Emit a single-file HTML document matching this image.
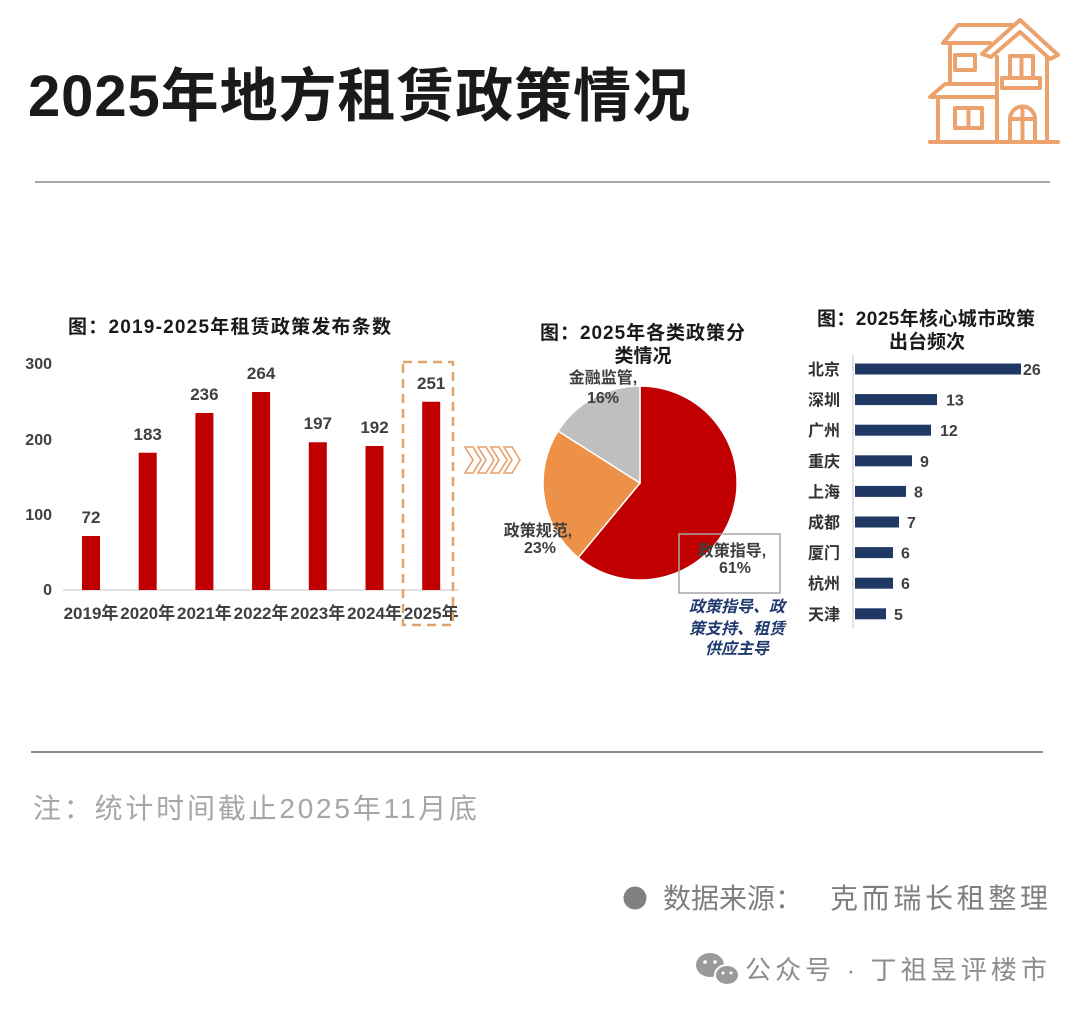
<!DOCTYPE html>
<html>
<head>
<meta charset="utf-8">
<style>
html,body{margin:0;padding:0;background:#fff;}
svg{display:block;}
text{font-family:"Liberation Sans","Noto Sans CJK SC",sans-serif;}
</style>
</head>
<body>
<svg width="1080" height="1013" viewBox="0 0 1080 1013" xmlns="http://www.w3.org/2000/svg">
<rect width="1080" height="1013" fill="#fff"/>

<!-- Title -->
<text x="28" y="116" font-size="58" font-weight="700" fill="#1a1a1a" textLength="662" lengthAdjust="spacing">2025年地方租赁政策情况</text>

<!-- House icon -->
<g stroke="#EBA26C" stroke-width="4" fill="none" stroke-linejoin="round" stroke-linecap="round">
  <path d="M930,142 H1058"/>
  <path d="M982,54 L1020,20 L1058,55 L1050,59 L1020,32 L991,57 Z"/>
  <path d="M997,57 V142 M1047,58 V142"/>
  <path d="M990,43 H943 L958,25 H1012"/>
  <path d="M950,43 V84"/>
  <rect x="955" y="55" width="20" height="15"/>
  <path d="M997,84 H945 L930,97 H997"/>
  <path d="M938,97 V142"/>
  <rect x="955" y="108" width="27" height="20"/>
  <path d="M968.5,108 V128"/>
  <rect x="1010" y="56" width="23" height="22"/>
  <path d="M1021.5,56 V78"/>
  <rect x="1002" y="78" width="38" height="10"/>
  <path d="M1010,142 V119 A12.5,12.5 0 0 1 1035,119 V142 M1010,119 H1035 M1022.5,107 V142"/>
</g>

<!-- top divider -->
<line x1="35" y1="182" x2="1050" y2="182" stroke="#a8a8a8" stroke-width="2"/>

<!-- ===== Bar chart ===== -->
<text x="68" y="333" font-size="19" font-weight="700" fill="#1a1a1a" textLength="323" lengthAdjust="spacing">图：2019-2025年租赁政策发布条数</text>
<g font-size="16" font-weight="700" fill="#404040" text-anchor="end">
  <text x="52" y="369">300</text>
  <text x="52" y="445">200</text>
  <text x="52" y="520">100</text>
  <text x="52" y="595">0</text>
</g>
<line x1="63" y1="590" x2="459" y2="590" stroke="#d9d9d9" stroke-width="1.5"/>
<g fill="#C00000">
  <rect x="82" y="536" width="18" height="54"/>
  <rect x="138.7" y="452.75" width="18" height="137.25"/>
  <rect x="195.4" y="413" width="18" height="177"/>
  <rect x="252.1" y="392" width="18" height="198"/>
  <rect x="308.8" y="442.25" width="18" height="147.75"/>
  <rect x="365.5" y="446" width="18" height="144"/>
  <rect x="422.2" y="401.75" width="18" height="188.25"/>
</g>
<g font-size="17" font-weight="700" fill="#404040" text-anchor="middle">
  <text x="91" y="523">72</text>
  <text x="147.7" y="440">183</text>
  <text x="204.4" y="400">236</text>
  <text x="261.1" y="379">264</text>
  <text x="317.8" y="429">197</text>
  <text x="374.5" y="433">192</text>
  <text x="431.2" y="389">251</text>
</g>
<g font-size="17" font-weight="700" fill="#404040" text-anchor="middle">
  <text x="91" y="619">2019年</text>
  <text x="147.7" y="619">2020年</text>
  <text x="204.4" y="619">2021年</text>
  <text x="261.1" y="619">2022年</text>
  <text x="317.8" y="619">2023年</text>
  <text x="374.5" y="619">2024年</text>
  <text x="431.2" y="619">2025年</text>
</g>
<rect x="403" y="362" width="50" height="263" fill="none" stroke="#E4A469" stroke-width="2.5" stroke-dasharray="9,6"/>

<!-- chevrons -->
<g fill="#fff" stroke="#E8A06A" stroke-width="1.6" stroke-linejoin="miter">
  <polygon points="465,447 473,447 481,460 473,473 465,473 473,460"/>
  <polygon points="478,447 486,447 494,460 486,473 478,473 486,460"/>
  <polygon points="491,447 499,447 507,460 499,473 491,473 499,460"/>
  <polygon points="504,447 512,447 520,460 512,473 504,473 512,460"/>
</g>

<!-- ===== Pie chart ===== -->
<text x="540" y="339" font-size="19" font-weight="700" fill="#1a1a1a" textLength="205" lengthAdjust="spacing">图：2025年各类政策分</text>
<text x="643" y="362" font-size="19" font-weight="700" fill="#1a1a1a" text-anchor="middle">类情况</text>
<g stroke="#fff" stroke-width="1.5">
  <path d="M640,483 L640,386 A97,97 0 1 1 578.2,557.7 Z" fill="#C00000"/>
  <path d="M640,483 L578.2,557.7 A97,97 0 0 1 558.1,431 Z" fill="#EE9148"/>
  <path d="M640,483 L558.1,431 A97,97 0 0 1 640,386 Z" fill="#BFBFBF"/>
</g>
<g font-size="16" font-weight="700" fill="#404040" text-anchor="middle">
  <text x="603" y="383">金融监管,</text>
  <text x="603" y="403">16%</text>
  <text x="538" y="536">政策规范,</text>
  <text x="540" y="553">23%</text>
  <text x="732" y="556">政策指导,</text>
  <text x="735" y="573">61%</text>
</g>
<rect x="679" y="534" width="101" height="59" fill="none" stroke="#a6a6a6" stroke-width="1.5"/>
<g font-size="16" font-weight="700" font-style="italic" fill="#1F3A6E" text-anchor="middle">
  <text x="737" y="612">政策指导、政</text>
  <text x="737" y="634">策支持、租赁</text>
  <text x="737" y="654">供应主导</text>
</g>

<!-- ===== Horizontal bar chart ===== -->
<text x="817" y="325" font-size="19" font-weight="700" fill="#1a1a1a" textLength="218" lengthAdjust="spacing">图：2025年核心城市政策</text>
<text x="927" y="348" font-size="19" font-weight="700" fill="#1a1a1a" text-anchor="middle">出台频次</text>
<line x1="853" y1="355" x2="853" y2="628" stroke="#d9d9d9" stroke-width="1.5"/>
<g fill="#203864">
  <rect x="855" y="363.5" width="166" height="11"/>
  <rect x="855" y="394.1" width="82" height="11"/>
  <rect x="855" y="424.7" width="76" height="11"/>
  <rect x="855" y="455.3" width="57" height="11"/>
  <rect x="855" y="485.9" width="51" height="11"/>
  <rect x="855" y="516.5" width="44" height="11"/>
  <rect x="855" y="547.1" width="38" height="11"/>
  <rect x="855" y="577.7" width="38" height="11"/>
  <rect x="855" y="608.3" width="31" height="11"/>
</g>
<g font-size="16" font-weight="700" fill="#333">
  <text x="808" y="375">北京</text>
  <text x="808" y="405.6">深圳</text>
  <text x="808" y="436.2">广州</text>
  <text x="808" y="466.8">重庆</text>
  <text x="808" y="497.4">上海</text>
  <text x="808" y="528">成都</text>
  <text x="808" y="558.6">厦门</text>
  <text x="808" y="589.2">杭州</text>
  <text x="808" y="619.8">天津</text>
</g>
<g font-size="16" font-weight="700" fill="#404040">
  <text x="1023" y="375">26</text>
  <text x="946" y="405.6">13</text>
  <text x="940" y="436.2">12</text>
  <text x="920" y="466.8">9</text>
  <text x="914" y="497.4">8</text>
  <text x="907" y="528">7</text>
  <text x="901" y="558.6">6</text>
  <text x="901" y="589.2">6</text>
  <text x="894" y="619.8">5</text>
</g>

<!-- bottom divider -->
<line x1="31" y1="752" x2="1043" y2="752" stroke="#8c8c8c" stroke-width="2"/>

<!-- Footer -->
<text x="33" y="818" font-size="28" fill="#a6a6a6" textLength="444" lengthAdjust="spacing">注：统计时间截止2025年11月底</text>
<circle cx="635" cy="898" r="11.5" fill="#808080"/>
<text x="663" y="908" font-size="28" fill="#7f7f7f">数据来源：</text>
<text x="830" y="908" font-size="28" fill="#7f7f7f" textLength="218" lengthAdjust="spacing">克而瑞长租整理</text>

<!-- wechat icon -->
<g>
  <ellipse cx="710" cy="965" rx="14" ry="12" fill="#9a9a9a"/>
  <ellipse cx="727" cy="975" rx="12" ry="10" fill="#9a9a9a" stroke="#fff" stroke-width="2"/>
  <circle cx="705" cy="962" r="1.8" fill="#fff"/>
  <circle cx="715" cy="962" r="1.8" fill="#fff"/>
  <circle cx="723" cy="973" r="1.5" fill="#fff"/>
  <circle cx="731" cy="973" r="1.5" fill="#fff"/>
</g>
<text x="745" y="979" font-size="26" fill="#8c8c8c" textLength="302" lengthAdjust="spacing">公众号 · 丁祖昱评楼市</text>
</svg>
</body>
</html>
